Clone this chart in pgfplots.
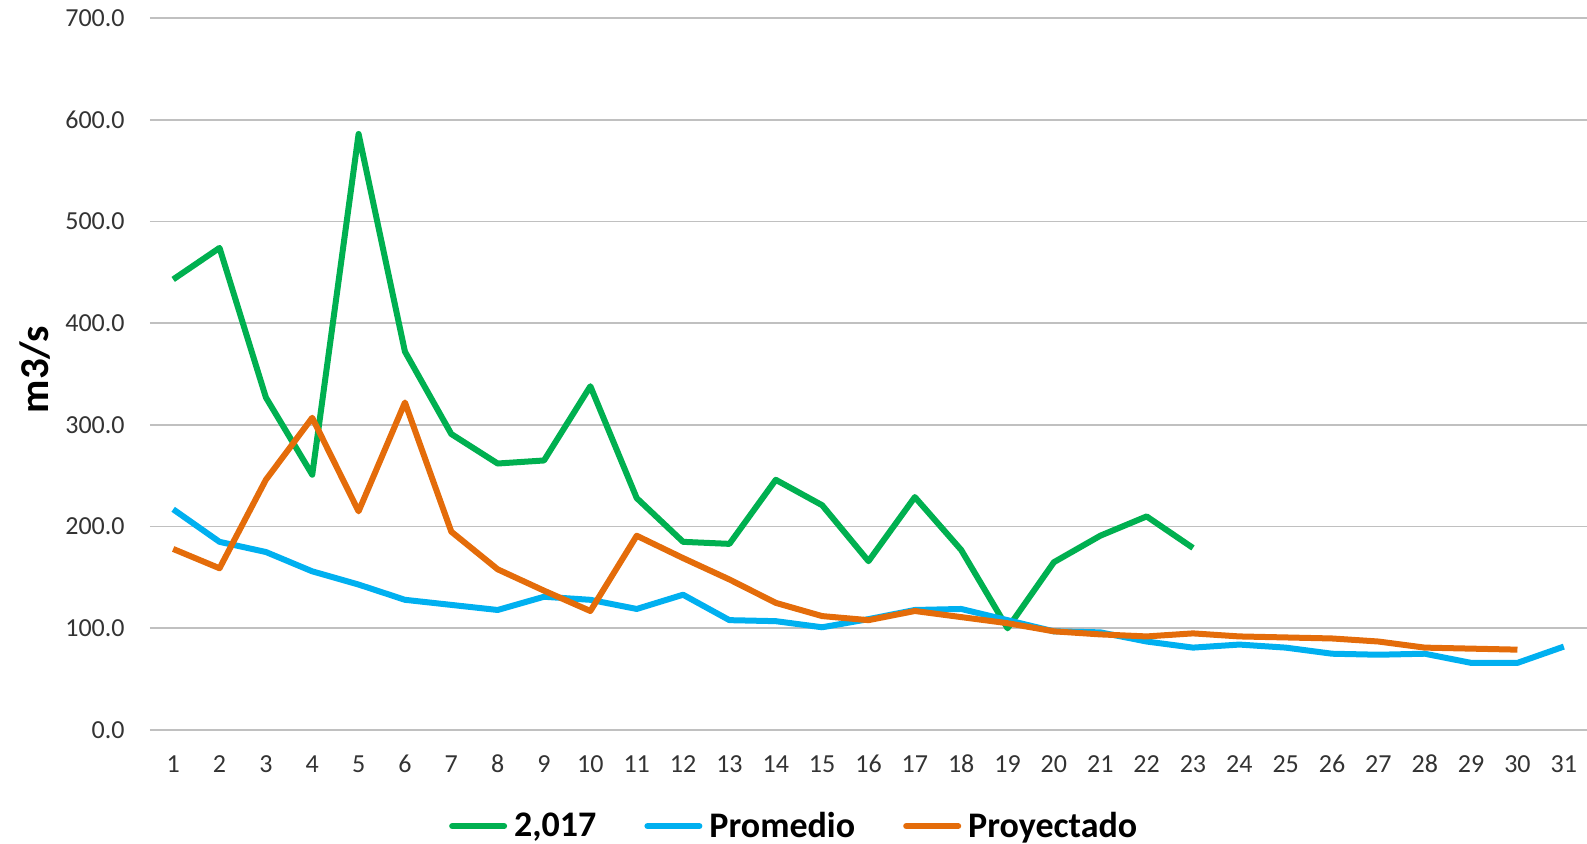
\documentclass[border=0pt]{standalone}
\usepackage{fontspec}
\setmainfont{Carlito}
\usepackage{pgfplots}
\pgfplotsset{compat=1.18}
\definecolor{cgreen}{HTML}{00B050}
\definecolor{cblue}{HTML}{00B0F0}
\definecolor{corange}{HTML}{E46C0A}
\definecolor{cgrid}{HTML}{C0C0C0}
\definecolor{ctick}{HTML}{333333}
\begin{document}
\begin{tikzpicture}
\useasboundingbox (0,0) rectangle (793.5pt,421.5pt);
\begin{axis}[
  at={(75pt,56.5pt)}, anchor=south west,
  scale only axis, width=718.5pt, height=356pt,
  xmin=0.5, xmax=31.5, ymin=0, ymax=700,
  xtick={1,...,31}, ytick={0,100,...,700},
  axis line style={draw=none},
  major tick length=0pt,
  ymajorgrids, grid style={cgrid, line width=0.9pt},
  tick label style={font=\fontsize{13}{15}\selectfont, text=ctick},
  /pgf/number format/assume math mode=true,
  yticklabel style={/pgf/number format/.cd, fixed, fixed zerofill, precision=1, /tikz/.cd, anchor=east, inner sep=0pt, xshift=-12.5pt},
  xticklabel style={anchor=center, inner sep=0pt, yshift=-17pt},
  ylabel={m3/s},
  ylabel style={at={(axis description cs:-0.080,0.506)}, anchor=center, font=\fontsize{20.5}{24}\selectfont\bfseries},
  legend columns=3,
  legend style={at={(axis description cs:0.449,-0.135)}, anchor=center, draw=none, fill=none,
    font=\fontsize{18}{21}\selectfont\bfseries, column sep=1.5pt, inner sep=0pt,
    /tikz/every even column/.append style={column sep=22pt}},
  legend cell align=left,
  legend image code/.code={\draw[#1, line width=3pt, line cap=round] (0pt,0pt) -- (26pt,0pt);},
  every axis plot/.append style={line width=3pt, line join=round},
]
\addplot[cgreen, mark=none] coordinates {
(1,443) (2,474) (3,327) (4,251) (5,586) (6,372) (7,291) (8,262) (9,265) (10,338)
(11,228) (12,185) (13,183) (14,246) (15,221) (16,166) (17,229) (18,177) (19,100)
(20,165) (21,191) (22,210) (23,179)};
\addlegendentry{2,017}
\addplot[cblue, mark=none] coordinates {
(1,217) (2,185) (3,175) (4,156) (5,143) (6,128) (7,123) (8,118) (9,131) (10,128)
(11,119) (12,133) (13,108) (14,107) (15,101) (16,109) (17,118) (18,119) (19,108)
(20,97) (21,96) (22,87) (23,81) (24,84) (25,81) (26,75) (27,74) (28,75) (29,66)
(30,66) (31,82)};
\addlegendentry{Promedio}
\addplot[corange, mark=none] coordinates {
(1,178) (2,159) (3,246) (4,307) (5,215) (6,322) (7,195) (8,158) (9,137) (10,117)
(11,191) (12,169) (13,148) (14,125) (15,112) (16,108) (17,117) (18,111) (19,105)
(20,97) (21,94) (22,92) (23,95) (24,92) (25,91) (26,90) (27,87) (28,81) (29,80)
(30,79)};
\addlegendentry{Proyectado}
\end{axis}
\end{tikzpicture}
\end{document}
